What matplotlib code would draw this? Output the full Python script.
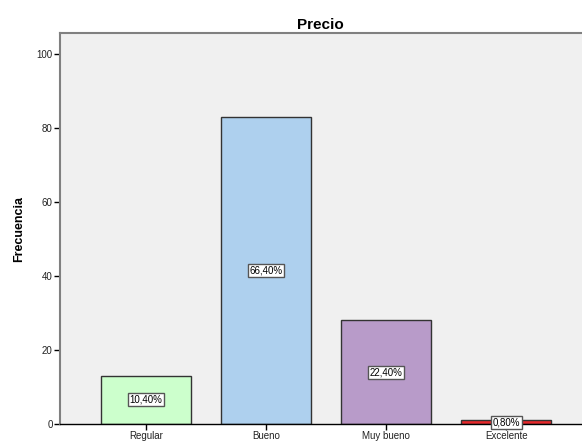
import matplotlib
matplotlib.use("Agg")
import matplotlib.pyplot as plt

categories = ["Regular", "Bueno", "Muy bueno", "Excelente"]
counts = [13, 83, 28, 1]
pct_labels = ["10,40%", "66,40%", "22,40%", "0,80%"]
colors = ["#ccffcc", "#aed0ee", "#b89bc9", "#e8282b"]
yticks = [0, 20, 40, 60, 80, 100]

plt.rcParams['font.family'] = ['Liberation Sans', 'DejaVu Sans']

fig = plt.figure(figsize=(5.82, 4.42), dpi=100)
ax = fig.add_axes([59.5/582, 1 - 424/442, 1 - 59.5/582, (424 - 33)/442])
ax.set_facecolor("#f0f0f0")

x = list(range(len(categories)))
ax.bar(x, counts, width=0.75, color=colors, edgecolor="#333333", linewidth=1.0, zorder=2)

for xi, c, lab in zip(x, counts, pct_labels):
    ax.text(xi, c / 2, lab, ha="center", va="center", fontsize=7, color="black", zorder=3,
            bbox=dict(boxstyle="square,pad=0.15", facecolor="white", edgecolor="#555555", linewidth=1.0))

ax.set_xlim(-0.72, 3.63)
ax.set_ylim(0, 105.7)
ax.set_xticks(x)
ax.set_xticklabels(categories, fontsize=7)
ax.set_yticks(yticks)
ax.set_yticklabels([str(v) for v in yticks], fontsize=7)
ax.tick_params(axis="both", length=4, width=1, pad=1, colors="black", labelcolor="#222222")

for s in ["top", "left"]:
    ax.spines[s].set_color("#808080")
    ax.spines[s].set_linewidth(1.5)
ax.spines["right"].set_visible(False)
ax.spines["bottom"].set_color("black")
ax.spines["bottom"].set_linewidth(1.0)

ax.set_title("Precio", fontsize=11, fontweight="bold", pad=3)
ax.set_ylabel("Frecuencia", fontsize=9, fontweight="bold", labelpad=8)

fig.savefig("out.png", dpi=100, facecolor="white")
